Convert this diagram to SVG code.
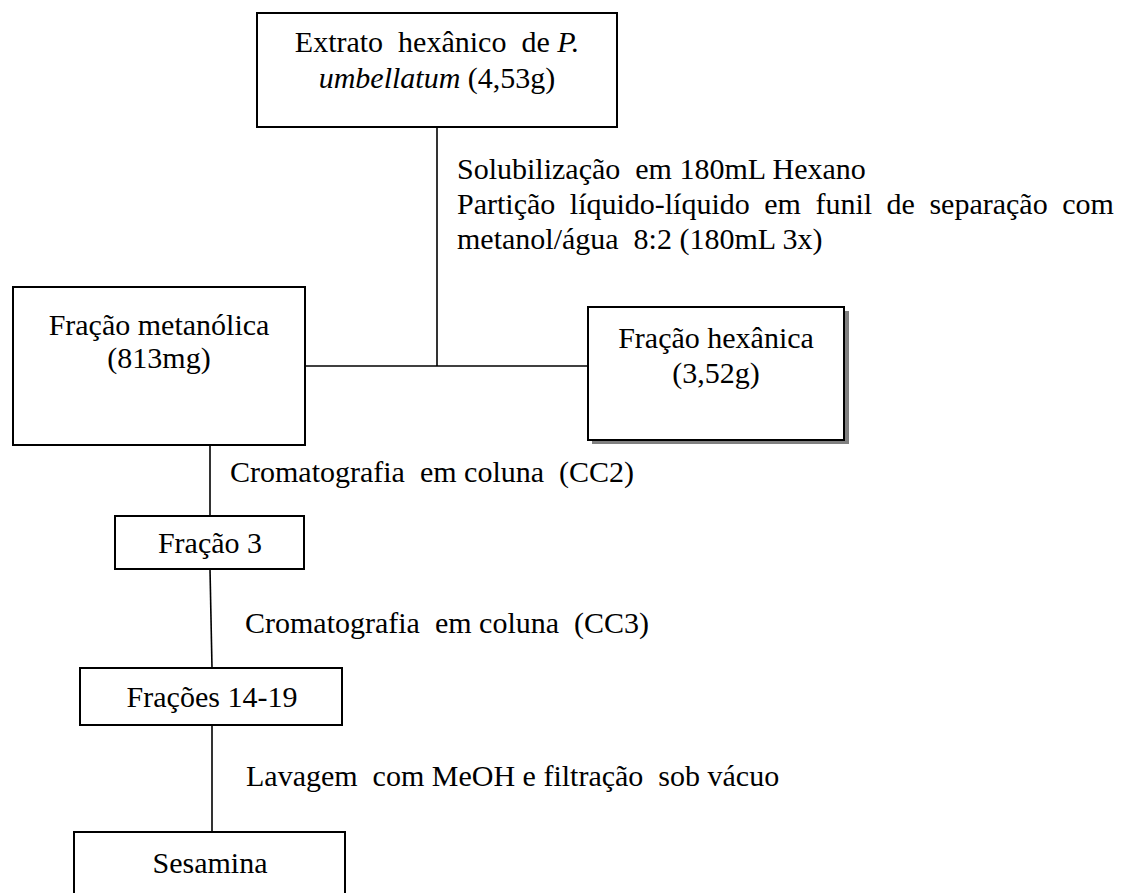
<svg xmlns="http://www.w3.org/2000/svg" width="1122" height="893" viewBox="0 0 1122 893">
<style>
  .box { fill: #ffffff; stroke: #000000; stroke-width: 2; }
  .shadow { fill: #808080; stroke: none; }
  .ln { stroke: #000000; stroke-width: 1.6; fill: none; }
  text { font-family: "Liberation Serif", "Times New Roman", serif; font-size: 30px; fill: #000000; }
  .c { text-anchor: middle; }
  .i { font-style: italic; }
</style>
<rect x="0" y="0" width="1122" height="893" fill="#ffffff"/>
<g id="connectors">
  <line class="ln" x1="437" y1="127" x2="437" y2="366"/>
  <line class="ln" x1="305" y1="366" x2="588" y2="366"/>
  <line class="ln" x1="210" y1="445" x2="210" y2="516"/>
  <line class="ln" x1="210" y1="569" x2="212" y2="668"/>
  <line class="ln" x1="212" y1="725" x2="212" y2="832"/>
</g>
<g id="n_extrato">
  <rect class="box" x="257" y="13" width="360" height="114"/>
  <text class="c" x="437" y="52">Extrato&#160; hexânico&#160; de <tspan class="i">P.</tspan></text>
  <text class="c" x="437" y="88"><tspan class="i">umbellatum</tspan> (4,53g)</text>
</g>
<g id="lbl_particao">
  <text x="457" y="179">Solubilização&#160; em 180mL Hexano</text>
  <text x="457" y="214" word-spacing="7">Partição líquido-líquido em funil de separação com</text>
  <text x="457" y="249">metanol/água&#160; 8:2 (180mL 3x)</text>
</g>
<g id="n_metanolica">
  <rect class="box" x="13" y="287" width="292" height="158"/>
  <text class="c" x="159" y="335">Fração metanólica</text>
  <text class="c" x="159" y="368">(813mg)</text>
</g>
<g id="n_hexanica">
  <rect class="shadow" x="592" y="311" width="257" height="133"/>
  <rect class="box" x="588" y="307" width="256" height="133"/>
  <text class="c" x="716" y="348">Fração hexânica</text>
  <text class="c" x="716" y="383">(3,52g)</text>
</g>
<g id="lbl_cc2">
  <text x="230" y="482">Cromatografia&#160; em coluna&#160; (CC2)</text>
</g>
<g id="n_fracao3">
  <rect class="box" x="115" y="516" width="189" height="53"/>
  <text class="c" x="210" y="553">Fração 3</text>
</g>
<g id="lbl_cc3">
  <text x="245" y="633">Cromatografia&#160; em coluna&#160; (CC3)</text>
</g>
<g id="n_fracoes">
  <rect class="box" x="80" y="668" width="262" height="57"/>
  <text class="c" x="212" y="707">Frações 14-19</text>
</g>
<g id="lbl_lavagem">
  <text x="246" y="786">Lavagem&#160; com MeOH e filtração&#160; sob vácuo</text>
</g>
<g id="n_sesamina">
  <rect class="box" x="74" y="832" width="271" height="80"/>
  <text class="c" x="210" y="873">Sesamina</text>
</g>
</svg>
